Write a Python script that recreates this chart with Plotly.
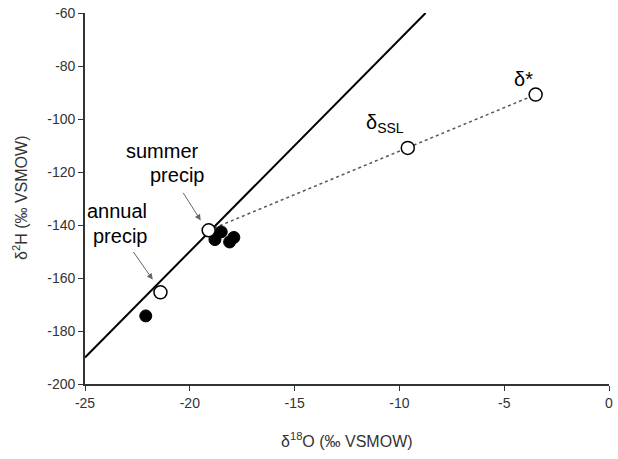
import plotly.graph_objects as go

# meteoric water line end points (d18O, d2H)
gmwl_x = [-25, -8.75]
gmwl_y = [-190, -60]

# measured samples (filled)
sample_x = [-22.1, -18.8, -18.5, -18.1, -17.9]
sample_y = [-174.3, -145.5, -142.6, -146.4, -144.7]

# precipitation and evaporation end members (open)
open_x = [-21.4, -19.1, -9.6, -3.5]
open_y = [-165.4, -142.0, -110.9, -90.8]

# evaporation line: summer precip -> dSSL -> d*
evap_x = [-19.1, -9.6, -3.5]
evap_y = [-142.0, -110.9, -90.8]

x_ticks = [-25, -20, -15, -10, -5, 0]
x_ticktext = ["-25", "-20", "-15", "-10", "-5", "0"]
y_ticks = [-200, -180, -160, -140, -120, -100, -80, -60]
y_ticktext = ["-200", "-180", "-160", "-140", "-120", "-100", "-80", "-60"]

FONT = "Liberation Sans, Arial, sans-serif"

fig = go.Figure()

fig.add_trace(go.Scatter(x=gmwl_x, y=gmwl_y, mode="lines",
                         line=dict(color="black", width=2), hoverinfo="skip"))
fig.add_trace(go.Scatter(x=evap_x, y=evap_y, mode="lines",
                         line=dict(color="#555", width=1.5, dash="dot"), hoverinfo="skip"))
fig.add_trace(go.Scatter(x=sample_x, y=sample_y, mode="markers",
                         marker=dict(size=12, color="black", line=dict(color="black", width=1))))
fig.add_trace(go.Scatter(x=open_x, y=open_y, mode="markers",
                         marker=dict(size=13, color="white", line=dict(color="black", width=1.5))))

labels = [
    ("summer", -21.29, -112.0),
    ("precip", -20.6, -121.0),
    ("annual", -23.46, -134.6),
    ("precip", -23.32, -144.0),
]
for txt, x, y in labels:
    fig.add_annotation(x=x, y=y, text=txt, showarrow=False,
                       font=dict(family=FONT, size=20, color="black"))

fig.add_annotation(x=-10.7, y=-101.7, text="δ<sub>SSL</sub>", showarrow=False,
                   font=dict(family=FONT, size=20, color="black"))
fig.add_annotation(x=-4.1, y=-84.8, text="δ*", showarrow=False,
                   font=dict(family=FONT, size=20, color="black"))

# pointer arrows
for hx, hy, tx, ty in [(-19.48, -138.3, -20.36, -127.3), (-21.77, -160.6, -22.74, -149.6)]:
    fig.add_annotation(x=hx, y=hy, ax=tx, ay=ty, xref="x", yref="y", axref="x", ayref="y",
                       text="", showarrow=True, arrowhead=2, arrowsize=1.2,
                       arrowwidth=1, arrowcolor="#666")

# axis titles
fig.add_annotation(x=0.5, y=-0.15, xref="paper", yref="paper", showarrow=False,
                   xanchor="center", yanchor="middle",
                   text="δ<sup>18</sup>O (‰ VSMOW)",
                   font=dict(family=FONT, size=16, color="#333"))
fig.add_annotation(x=-0.125, y=0.5, xref="paper", yref="paper", showarrow=False,
                   xanchor="center", yanchor="middle",
                   textangle=-90, text="δ<sup>2</sup>H (‰ VSMOW)",
                   font=dict(family=FONT, size=16, color="#333"))

axis_style = dict(showgrid=False, zeroline=False, showline=True, linecolor="#333",
                  linewidth=1.6, ticks="outside", ticklen=5, tickcolor="#333",
                  tickfont=dict(family=FONT, size=14, color="#333"))

fig.update_layout(
    width=618, height=459,
    margin=dict(l=85, r=5, t=13, b=75),
    plot_bgcolor="white", paper_bgcolor="white",
    showlegend=False,
    xaxis=dict(range=[-25, 0], tickvals=x_ticks, ticktext=x_ticktext, **axis_style),
    yaxis=dict(range=[-200, -60], tickvals=y_ticks, ticktext=y_ticktext, **axis_style),
)

fig.write_html("out.html", config={"displayModeBar": False},
               post_script="document.body.style.margin='0';")
